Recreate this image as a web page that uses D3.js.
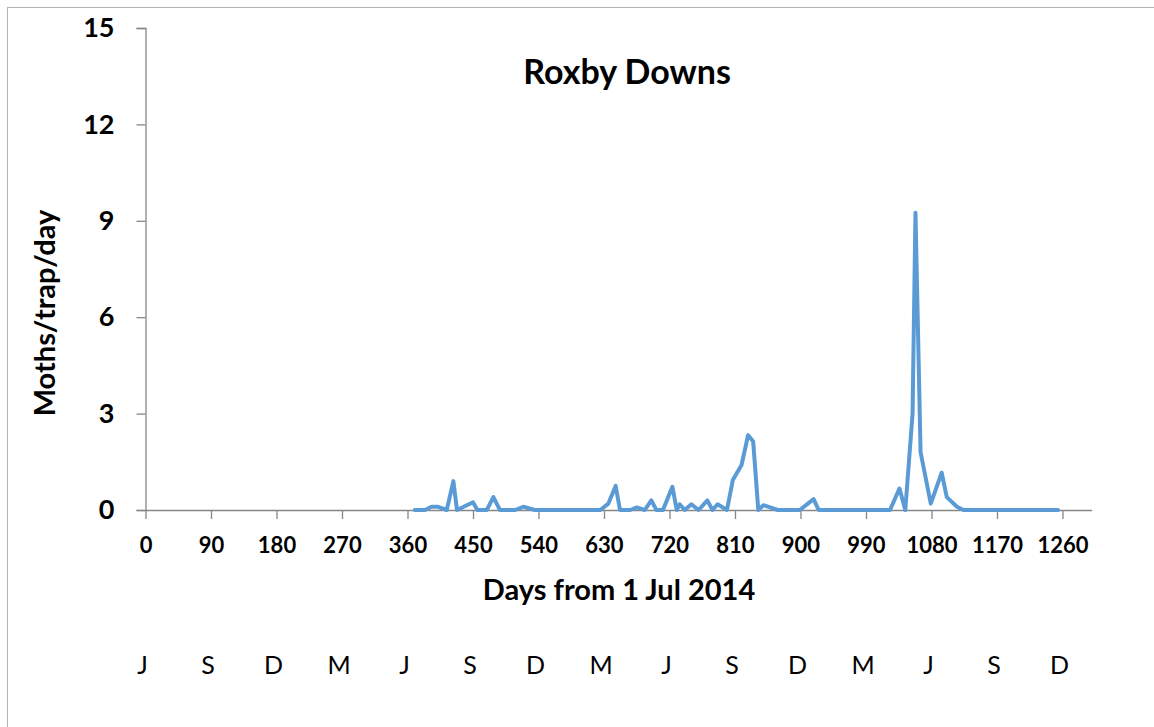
<!DOCTYPE html>
<html>
<head>
<meta charset="utf-8">
<script src="https://cdn.jsdelivr.net/npm/d3@7"></script>
<style>
  html, body { margin: 0; padding: 0; background: #fff; }
  svg { display: block; }
  text { font-family: Lato, "Open Sans", sans-serif; fill: #000; }
</style>
</head>
<body>
<svg id="chart" width="1154" height="727"></svg>
<script>
// ---- data ----
const days = [370, 384, 393, 402, 414, 423, 428, 450, 456, 469, 478, 487, 508, 519, 535,
  625, 636, 646, 652, 666, 675, 686, 695, 702, 711, 724, 730, 734, 741, 750, 760, 772,
  779, 786, 799, 807, 819, 828, 835, 842, 849, 869, 899, 918, 925, 1023, 1036, 1044,
  1054, 1058, 1065, 1079, 1094, 1101, 1115, 1124, 1254];
const moths = [0, 0, 0.1, 0.1, 0, 0.9, 0, 0.24, 0, 0, 0.4, 0, 0, 0.1, 0,
  0, 0.2, 0.75, 0, 0, 0.08, 0, 0.3, 0, 0, 0.72, 0, 0.18, 0, 0.18, 0, 0.3,
  0, 0.18, 0, 0.93, 1.4, 2.33, 2.13, 0, 0.15, 0, 0, 0.34, 0, 0, 0.67, 0,
  3.0, 9.25, 1.8, 0.2, 1.16, 0.4, 0.1, 0, 0];
const xTicks = [0, 90, 180, 270, 360, 450, 540, 630, 720, 810, 900, 990, 1080, 1170, 1260];
const yTicks = [0, 3, 6, 9, 12, 15];
const monthLabels = ["J", "S", "D", "M", "J", "S", "D", "M", "J", "S", "D", "M", "J", "S", "D"];
const titleText = "Roxby Downs";
const xTitle = "Days from 1 Jul 2014";
const yTitle = "Moths/trap/day";

// ---- layout ----
const svg = d3.select("#chart");
const x = d3.scaleLinear().domain([0, 1300]).range([145.5, 1091.6]);
const y = d3.scaleLinear().domain([0, 15]).range([510, 28]);
const axisColor = "#868686";

// outer frame
svg.append("rect").attr("x", 7.5).attr("y", 7.5).attr("width", 1160).attr("height", 740)
  .attr("fill", "none").attr("stroke", "#b4b4b4").attr("stroke-width", 1);

// y axis
const yAxis = svg.append("g").attr("transform", `translate(${x(0)},0)`)
  .call(d3.axisLeft(y).tickValues(yTicks).tickSize(9).tickPadding(22).tickFormat(d3.format("d")));
yAxis.select(".domain").attr("stroke", axisColor).attr("stroke-width", 1.3);
yAxis.selectAll(".tick line").attr("stroke", axisColor).attr("stroke-width", 1.3);
yAxis.selectAll(".tick text").attr("font-size", 27).attr("font-weight", 700)
  .attr("font-family", "Lato, sans-serif").attr("fill", "#000");

// x axis
const xAxis = svg.append("g").attr("transform", `translate(0,${y(0)})`)
  .call(d3.axisBottom(x).tickValues(xTicks).tickSize(9).tickSizeOuter(0).tickPadding(18).tickFormat(d3.format("d")));
xAxis.select(".domain").attr("stroke", axisColor).attr("stroke-width", 1.3);
xAxis.selectAll(".tick line").attr("stroke", axisColor).attr("stroke-width", 1.3);
xAxis.selectAll(".tick text").attr("font-size", 22).attr("font-weight", 700)
  .attr("font-family", "Lato, sans-serif").attr("fill", "#000");

// line
const pts = days.map((d, i) => [d, moths[i]]);
svg.append("path").datum(pts)
  .attr("fill", "none").attr("stroke", "#5B9BD5").attr("stroke-width", 4)
  .attr("stroke-linejoin", "round").attr("stroke-linecap", "round")
  .attr("d", d3.line().x(d => x(d[0])).y(d => y(d[1])));

// title
svg.append("text").attr("x", 627).attr("y", 84).attr("text-anchor", "middle")
  .attr("font-size", 34).attr("font-weight", 700).text(titleText);

// x axis title
svg.append("text").attr("x", 619).attr("y", 600).attr("text-anchor", "middle")
  .attr("font-size", 29).attr("font-weight", 700).text(xTitle);

// y axis title
svg.append("text").attr("transform", "translate(55,313) rotate(-90)").attr("text-anchor", "middle")
  .attr("font-size", 29).attr("font-weight", 700).text(yTitle);

// month letters
svg.append("g").selectAll("text").data(monthLabels).join("text")
  .attr("x", (d, i) => x(xTicks[i]) - 3).attr("y", 674).attr("text-anchor", "middle")
  .attr("font-size", 25).attr("font-weight", 400).text(d => d);
</script>
</body>
</html>
